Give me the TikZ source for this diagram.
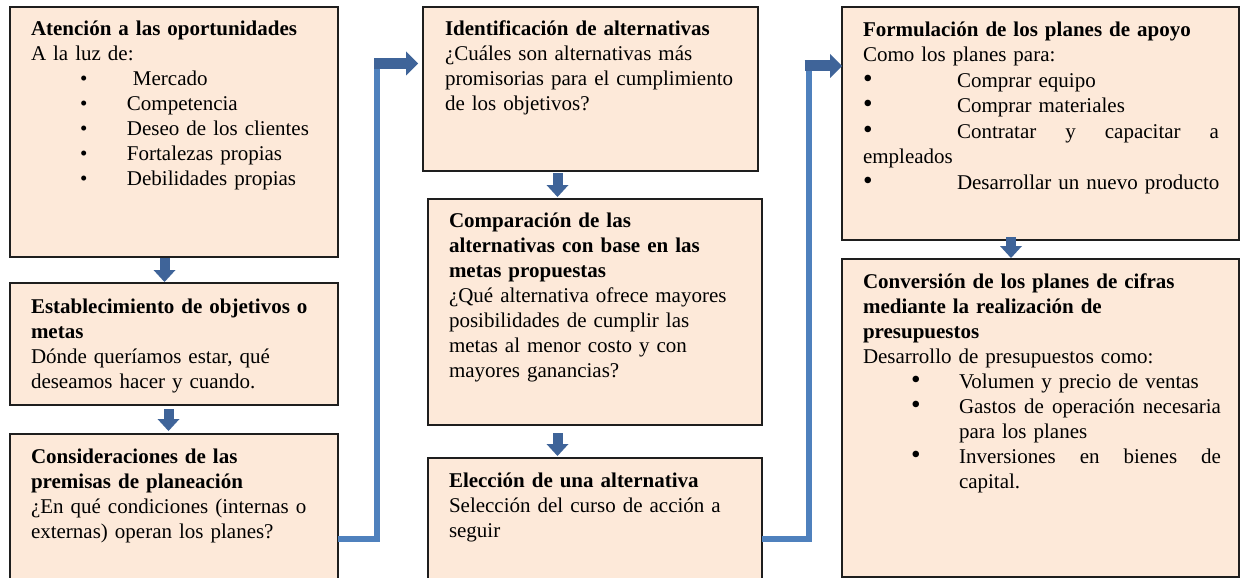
\documentclass[tikz,border=0pt]{standalone}
\usepackage{fontspec}
\usepackage{graphicx}
\setmainfont{Liberation Serif}
\usetikzlibrary{arrows.meta,calc}
\definecolor{peach}{HTML}{FDE9D9}
\definecolor{linkblue}{HTML}{4F81BD}
\definecolor{arrowdark}{HTML}{3F6499}
\definecolor{boxline}{HTML}{1E1E1E}
\newcommand\fsz{\fontsize{21}{25}\selectfont}
\newcommand\fszb{\fontsize{21}{25.5}\selectfont}
\newcommand\blt[2]{\hspace*{#1}\makebox[#2][l]{•}}
\newcommand\bltb[2]{\hspace*{#1}\makebox[#2][l]{\scalebox{1.3}{•}}}
\tikzset{
  box/.style={draw=boxline, line width=1.8pt, fill=peach, anchor=north west, inner sep=0pt, outer sep=0pt},
  txt/.style={anchor=north west, inner sep=0pt, outer sep=0pt, align=left, font=\fsz},
  darr/.style={draw=arrowdark, line width=10pt, -{Triangle[width=22pt,length=12pt,line width=0pt]}},
  rarr/.style={draw=arrowdark, line width=11pt, -{Triangle[width=24pt,length=12pt,line width=0pt]}},
  conn/.style={draw=linkblue, line width=6pt},
}
\begin{document}
\begin{tikzpicture}[x=1pt,y=-1pt]
\useasboundingbox (0,0) rectangle (1240,578);
\clip (0,0) rectangle (1240,578);
\fill[white] (0,0) rectangle (1240,578);

% boxes
\node[box, minimum width=328pt, minimum height=250pt] (b1) at (10,7) {};
\node[box, minimum width=328pt, minimum height=122pt] (b2) at (10,283) {};
\node[box, minimum width=328pt, minimum height=160pt] (b3) at (10,434) {};
\node[box, minimum width=335pt, minimum height=164pt] (b4) at (423,7) {};
\node[box, minimum width=334pt, minimum height=226pt] (b5) at (428,199) {};
\node[box, minimum width=334pt, minimum height=140pt] (b6) at (428,458) {};
\node[box, minimum width=397pt, minimum height=233pt] (b7) at (842,7) {};
\node[box, minimum width=397pt, minimum height=318pt] (b8) at (842,259) {};

% texts
\node[txt, text width=305pt] (t1) at ($(b1.north west)+(21,11.5)$) {\strut\textbf{Atención a las oportunidades}\\
A la luz de:\\
\blt{49pt}{53pt}Mercado\\
\blt{49pt}{47pt}Competencia\\
\blt{49pt}{47pt}Deseo de los clientes\\
\blt{49pt}{47pt}Fortalezas propias\\
\blt{49pt}{47pt}Debilidades propias};

\node[txt, text width=305pt] (t2) at ($(b2.north west)+(21,12.5)$) {\strut\textbf{Establecimiento de objetivos o}\\
\textbf{metas}\\
Dónde queríamos estar, qué\\
deseamos hacer y cuando.};

\node[txt, text width=305pt] (t3) at ($(b3.north west)+(21,11.5)$) {\strut\textbf{Consideraciones de las}\\
\textbf{premisas de planeación}\\
¿En qué condiciones (internas o\\
externas) operan los planes?};

\node[txt, text width=312pt] (t4) at ($(b4.north west)+(22,11.5)$) {\strut\textbf{Identificación de alternativas}\\
¿Cuáles son alternativas más\\
promisorias para el cumplimiento\\
de los objetivos?};

\node[txt, text width=310pt] (t5) at ($(b5.north west)+(21,10.5)$) {\strut\textbf{Comparación de las}\\
\textbf{alternativas con base en las}\\
\textbf{metas propuestas}\\
¿Qué alternativa ofrece mayores\\
posibilidades de cumplir las\\
metas al menor costo y con\\
mayores ganancias?};

\node[txt, text width=310pt] (t6) at ($(b6.north west)+(21,11.5)$) {\strut\textbf{Elección de una alternativa}\\
Selección del curso de acción a\\
seguir};

\node[txt, font=\fszb, text width=372pt] (t7) at ($(b7.north west)+(21,11.5)$) {\strut\textbf{Formulación de los planes de apoyo}\\
Como los planes para:\\
\bltb{0pt}{94pt}Comprar equipo\\
\bltb{0pt}{94pt}Comprar materiales\\
\bltb{0pt}{94pt}\makebox[262pt][l]{Contratar\hfill y\hfill capacitar\hfill a}\\
empleados\\
\bltb{0pt}{94pt}Desarrollar un nuevo producto};

\node[txt, text width=372pt] (t8) at ($(b8.north west)+(21,11.5)$) {\strut\textbf{Conversión de los planes de cifras}\\
\textbf{mediante la realización de}\\
\textbf{presupuestos}\\
Desarrollo de presupuestos como:\\
\bltb{48pt}{48pt}Volumen y precio de ventas\\
\bltb{48pt}{48pt}\makebox[262pt][l]{Gastos\hfill de\hfill operación\hfill necesaria}\\
\hspace*{96pt}para los planes\\
\bltb{48pt}{48pt}\makebox[262pt][l]{Inversiones\hfill en\hfill bienes\hfill de}\\
\hspace*{96pt}capital.};

% down block arrows
\coordinate (d1) at (164.5,0);
\coordinate (d2) at (168.5,0);
\coordinate (d3) at (557.5,0);
\coordinate (d4) at (1011,0);
\draw[darr, shorten <=1pt, shorten >=1pt] (d1 |- b1.south) -- (d1 |- b2.north);
\draw[darr, shorten <=4pt, shorten >=3pt] (d2 |- b2.south) -- (d2 |- b3.north);
\draw[darr, shorten <=2pt, shorten >=2pt] (d3 |- b4.south) -- (d3 |- b5.north);
\draw[darr, shorten <=8pt, shorten >=2pt] (d3 |- b5.south) -- (d3 |- b6.north);
\draw[darr, shorten <=-3pt, shorten >=1pt] (d4 |- b7.south) -- (d4 |- b8.north);

% elbow connectors
\coordinate (j1) at (377,539);
\coordinate (j2) at (377,63.5);
\draw[conn] (b3.east |- j1) -- (j1) -- (j2);
\draw[rarr, shorten >=5pt] ([xshift=-3pt]j2) -- (b4.west |- j2);

\coordinate (j3) at (808.5,538.5);
\coordinate (j4) at (808.5,66);
\draw[conn] (b6.east |- j3) -- (j3) -- (j4);
\draw[rarr] ([xshift=-4pt]j4) -- (b7.west |- j4);
\end{tikzpicture}
\end{document}
